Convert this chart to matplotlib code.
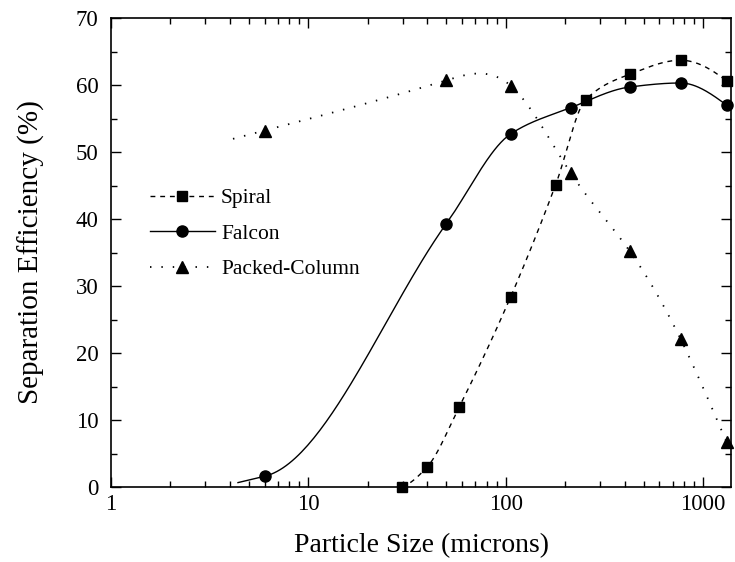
import numpy as np
import matplotlib
matplotlib.use("Agg")
import matplotlib.pyplot as plt
from matplotlib.ticker import LogLocator, MultipleLocator, FixedLocator, FixedFormatter

plt.rcParams['font.family'] = ['Liberation Serif', 'DejaVu Serif']
plt.rcParams['mathtext.fontset'] = 'stix'

# ---------------- data ----------------
spiral_x = [29.7, 40, 58, 106, 179, 254, 425, 769, 1315]
spiral_y = [0.0, 3.0, 11.9, 28.4, 45.1, 57.8, 61.6, 63.7, 60.6]

falcon_x = [6.0, 50, 106, 213, 425, 769, 1315]
falcon_y = [1.6, 39.3, 52.7, 56.6, 59.7, 60.3, 57.0]

packed_x = [6.0, 50, 106, 213, 425, 769, 1315]
packed_y = [53.2, 60.7, 59.9, 46.9, 35.2, 22.1, 6.7]

# where the smoothed curves begin (left tails) in the reference
falcon_curve_start = 4.4
packed_curve_start = 4.15
falcon_start_slope = 7.0   # % per decade at the first point

x_tick_vals = [1, 10, 100, 1000]
x_tick_labels = ['1', '10', '100', '1000']
y_ticks = [0, 10, 20, 30, 40, 50, 60, 70]

# ---------------- smoothing helpers ----------------
def pchip_slopes(x, y):
    n = len(x)
    h = np.diff(x)
    d = np.diff(y) / h
    m = np.zeros(n)
    for k in range(1, n - 1):
        if d[k - 1] * d[k] <= 0:
            m[k] = 0.0
        else:
            w1 = 2 * h[k] + h[k - 1]
            w2 = h[k] + 2 * h[k - 1]
            m[k] = (w1 + w2) / (w1 / d[k - 1] + w2 / d[k])
    def end(h0, h1, d0, d1):
        s = ((2 * h0 + h1) * d0 - h0 * d1) / (h0 + h1)
        if np.sign(s) != np.sign(d0):
            s = 0.0
        elif np.sign(d0) != np.sign(d1) and abs(s) > abs(3 * d0):
            s = 3 * d0
        return s
    m[0] = end(h[0], h[1], d[0], d[1])
    m[-1] = end(h[-1], h[-2], d[-1], d[-2])
    return m

def natural_slopes(x, y):
    n = len(x)
    h = np.diff(x)
    A = np.zeros((n, n))
    b = np.zeros(n)
    A[0, 0] = 2; A[0, 1] = 1
    b[0] = 3 * (y[1] - y[0]) / h[0]
    A[-1, -2] = 1; A[-1, -1] = 2
    b[-1] = 3 * (y[-1] - y[-2]) / h[-1]
    for i in range(1, n - 1):
        A[i, i - 1] = 1 / h[i - 1]
        A[i, i] = 2 * (1 / h[i - 1] + 1 / h[i])
        A[i, i + 1] = 1 / h[i]
        b[i] = 3 * ((y[i] - y[i - 1]) / h[i - 1] ** 2 + (y[i + 1] - y[i]) / h[i] ** 2)
    return np.linalg.solve(A, b)

def hermite_curve(x, y, m, lo=None, n_per=60):
    xs, ys = [], []
    if lo is not None and lo < x[0]:
        t = np.linspace(lo, x[0], 20)
        xs.append(t); ys.append(y[0] + m[0] * (t - x[0]))
    for i in range(len(x) - 1):
        h = x[i + 1] - x[i]
        t = np.linspace(0, 1, n_per)
        h00 = 2 * t**3 - 3 * t**2 + 1
        h10 = t**3 - 2 * t**2 + t
        h01 = -2 * t**3 + 3 * t**2
        h11 = t**3 - t**2
        xs.append(x[i] + t * h)
        ys.append(h00 * y[i] + h10 * h * m[i] + h01 * y[i + 1] + h11 * h * m[i + 1])
    return np.concatenate(xs), np.concatenate(ys)

def smooth(xv, yv, kind='pchip', lo=None, start_slope=None):
    lx = np.log10(np.asarray(xv, float))
    y = np.asarray(yv, float)
    m = pchip_slopes(lx, y) if kind == 'pchip' else natural_slopes(lx, y)
    if start_slope is not None:
        m[0] = start_slope
    llo = None if lo is None else np.log10(lo)
    cx, cy = hermite_curve(lx, y, m, llo)
    return 10 ** cx, cy

# ---------------- figure ----------------
fig = plt.figure(figsize=(7.35, 5.62), dpi=100)
ax = fig.add_axes([111 / 735, 75 / 562, 620 / 735, 469 / 562])
ax.set_xscale('log')

sx, sy = smooth(spiral_x, spiral_y, 'pchip')
fx, fy = smooth(falcon_x, falcon_y, 'pchip', lo=falcon_curve_start, start_slope=falcon_start_slope)
px, py = smooth(packed_x, packed_y, 'natural', lo=packed_curve_start)

ax.plot(sx, sy, color='black', lw=1.0, ls=(0, (3.5, 3.5)), clip_on=False, zorder=3)
ax.plot(fx, fy, color='black', lw=1.0, ls='-', clip_on=False, zorder=3)
ax.plot(px, py, color='black', lw=1.3, ls=(0, (0.8, 5.5)), clip_on=False, zorder=3)

ax.plot(spiral_x, spiral_y, ls='none', marker='s', ms=6.5, color='black', clip_on=False, zorder=4)
ax.plot(falcon_x, falcon_y, ls='none', marker='o', ms=8, color='black', clip_on=False, zorder=4)
ax.plot(packed_x, packed_y, ls='none', marker='^', ms=8, color='black', clip_on=False, zorder=4)

# legend proxies
h1, = ax.plot([], [], color='black', lw=1.0, ls=(0, (3.5, 3.5)), marker='s', ms=6.5)
h2, = ax.plot([], [], color='black', lw=1.0, ls='-', marker='o', ms=8)
h3, = ax.plot([], [], color='black', lw=1.3, ls=(0, (0.8, 5.5)), marker='^', ms=8)
leg = ax.legend([h1, h2, h3], ['Spiral', 'Falcon', 'Packed-Column'],
                loc='upper left', bbox_to_anchor=((150 - 111) / 620, (487 - 188) / 469),
                frameon=False, fontsize=15.5, handlelength=3.0, handletextpad=0.3,
                labelspacing=0.72, borderaxespad=0, borderpad=0, numpoints=1)

ax.set_xlim(1, 1385)
ax.set_ylim(0, 70)

ax.xaxis.set_major_locator(FixedLocator(x_tick_vals))
ax.xaxis.set_major_formatter(FixedFormatter(x_tick_labels))
ax.xaxis.set_minor_locator(LogLocator(base=10, subs=np.arange(2, 10), numticks=20))
ax.xaxis.set_minor_formatter(plt.NullFormatter())
ax.set_yticks(y_ticks)
ax.yaxis.set_minor_locator(MultipleLocator(5))

ax.tick_params(which='both', direction='in', top=True, right=True, width=1.0, colors='black')
ax.tick_params(which='major', length=7)
ax.tick_params(which='minor', length=4)
ax.tick_params(axis='x', which='major', labelsize=16.5, pad=5)
ax.tick_params(axis='y', which='major', labelsize=16.5, pad=9)

for s in ax.spines.values():
    s.set_linewidth(1.2)
    s.set_color('black')

ax.set_xlabel('Particle Size (microns)', fontsize=20, labelpad=13)
ax.set_ylabel('Separation Efficiency (%)', fontsize=21, labelpad=22)

fig.savefig('out.png', dpi=100, facecolor='white')
